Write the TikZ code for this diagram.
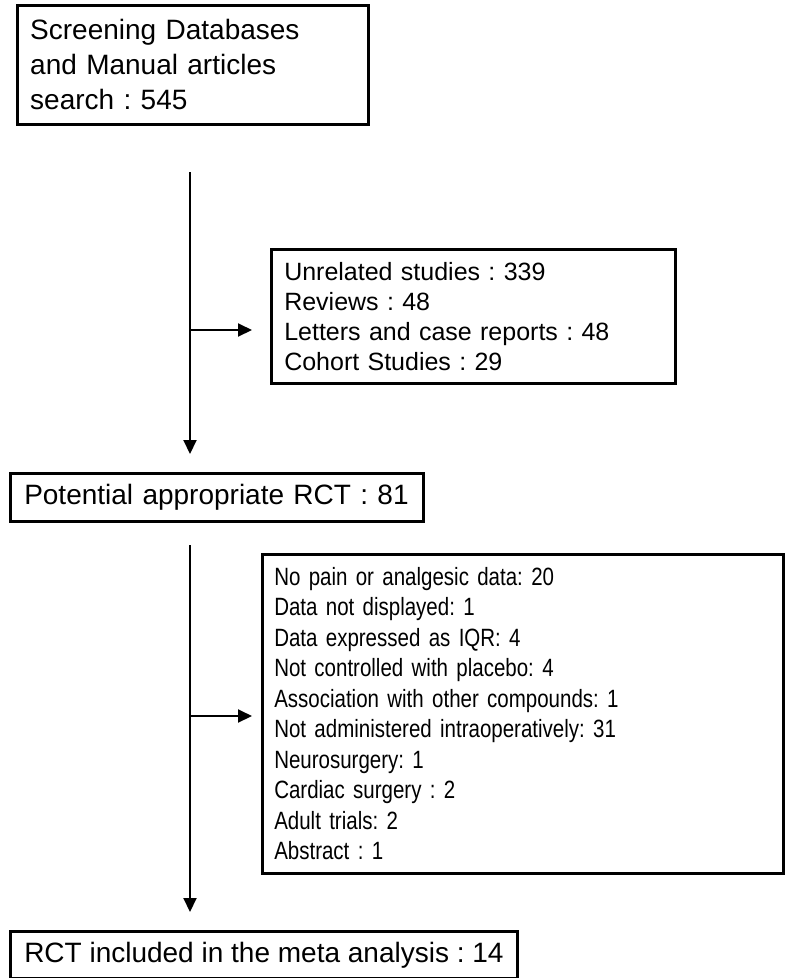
\documentclass[tikz,border=0pt]{standalone}
\usepackage{fontspec}
\setmainfont{Liberation Sans}
\newfontfamily\narrowsans[FakeStretch=0.82]{Liberation Sans}
\usetikzlibrary{arrows.meta,positioning,calc}
\frenchspacing

\begin{document}
\begin{tikzpicture}[x=1pt,y=-1pt,
record/.style={
% The shape:
rectangle,
% The border:
line width=2.5pt,
draw=black,
% The text:
align=left, inner xsep=13pt, inner ysep=0pt,
% placed by its upper left corner
anchor=north west
},
flow/.style={
% The line:
line width=2pt, draw=black,
% The tip:
-{Triangle[length=14pt,width=13pt]}
}]

\useasboundingbox (0,0) rectangle (786,978);

\node (s) [record, minimum width=351pt, minimum height=119pt, text width=325pt,
  font=\fontsize{28}{35}\selectfont] at (16,4)
  {Screening Databases\\ and Manual articles\\ search : 545};
\node (u) [record, minimum height=134pt, text width=378pt,
  font=\fontsize{25}{30}\selectfont] at (270,248)
  {Unrelated studies : 339\\ Reviews : 48\\ Letters and case reports : 48\\ Cohort Studies : 29};
\node (p) [record, minimum height=48pt, inner xsep=14pt, text width=385pt,
  font=\fontsize{28}{34}\selectfont] at (9,472)
  {Potential appropriate RCT : 81};
\node (n) [record, minimum height=319pt, inner xsep=12pt, text width=497pt,
  font=\narrowsans\fontsize{25}{30.5}\selectfont] at (261,553)
  {No pain or analgesic data: 20\\ Data not displayed: 1\\ Data expressed as IQR: 4\\
   Not controlled with placebo: 4\\ Association with other compounds: 1\\
   Not administered intraoperatively: 31\\ Neurosurgery: 1\\ Cardiac surgery : 2\\
   Adult trials: 2\\ Abstract : 1};
\node (r) [record, minimum height=47pt, inner xsep=14pt,
  font=\fontsize{28}{34}\selectfont] at (9,930)
  {RCT included in the meta analysis : 14};

\coordinate (a1) at (190,172);
\coordinate (b1) at (190,330);
\coordinate (a2) at (190,545);
\coordinate (b2) at (190,716);

\draw[flow, shorten >=18pt] (a1) -- (a1 |- p.north);
\draw[flow, shorten >=18pt] (b1) -- (b1 -| u.west);
\draw[flow, shorten >=18pt] (a2) -- (a2 |- r.north);
\draw[flow, shorten >=9pt] (b2) -- (b2 -| n.west);
\end{tikzpicture}
\end{document}
